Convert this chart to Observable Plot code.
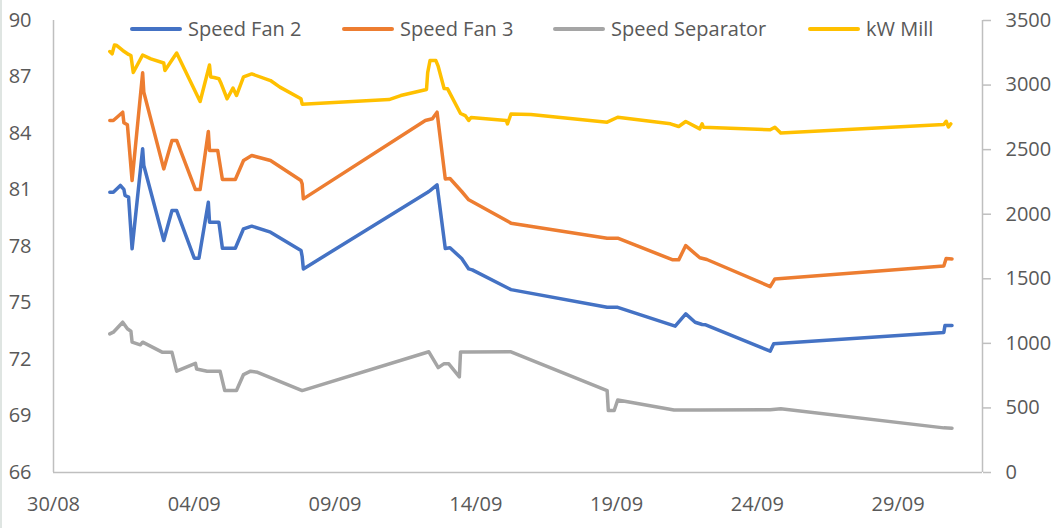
<!DOCTYPE html>
<html><head><meta charset="utf-8">
<script src="https://cdn.jsdelivr.net/npm/d3@7"></script>
<script src="https://cdn.jsdelivr.net/npm/@observablehq/plot@0.6"></script>
<style>
html,body{margin:0;padding:0;background:#fff;}
#wrap{position:relative;width:1054px;height:528px;overflow:hidden;font-family:"Open Sans",sans-serif;}
#legend{position:absolute;top:14px;left:0;width:1054px;height:30px;font-size:20px;color:#595959;line-height:30px;white-space:nowrap;}
.item{position:absolute;top:0;display:flex;align-items:center;}
.swatch{width:52px;height:4px;border-radius:2px;margin-right:6px;}
#edge{position:absolute;left:0;top:0;width:2px;height:528px;background:#dfe5e2;}
</style></head><body>
<div id="wrap"><div id="chart"></div><div id="legend"></div><div id="edge"></div></div>
<script>
// ---- data ----
const seriesNames = ["Speed Fan 2", "Speed Fan 3", "Speed Separator", "kW Mill"];
const seriesColors = ["#4472C4", "#ED7D31", "#A5A5A5", "#FFC000"];
const leftTicks = [66, 69, 72, 75, 78, 81, 84, 87, 90];
const rightTicks = [0, 500, 1000, 1500, 2000, 2500, 3000, 3500];
const xTicks = ["2023-08-30T00", "2023-09-04T00", "2023-09-09T00", "2023-09-14T00", "2023-09-19T00", "2023-09-24T00", "2023-09-29T00"];
const xDomain = ["2023-08-30T00", "2023-10-02T00"];

const fan2Times = ["2023-09-01T00","2023-09-01T03","2023-09-01T09","2023-09-01T12","2023-09-01T13","2023-09-01T16","2023-09-01T19","2023-09-02T04","2023-09-02T05","2023-09-02T22","2023-09-03T05","2023-09-03T09","2023-09-04T00","2023-09-04T04","2023-09-04T12","2023-09-04T13","2023-09-04T21","2023-09-05T00","2023-09-05T11","2023-09-05T18","2023-09-06T01","2023-09-06T17","2023-09-07T19","2023-09-07T20","2023-09-07T21","2023-09-12T07","2023-09-12T09","2023-09-12T15","2023-09-12T22","2023-09-13T02","2023-09-13T12","2023-09-13T18","2023-09-13T21","2023-09-15T06","2023-09-18T16","2023-09-19T01","2023-09-21T02","2023-09-21T11","2023-09-21T19","2023-09-22T01","2023-09-22T04","2023-09-24T11","2023-09-24T14","2023-09-30T15","2023-09-30T16","2023-09-30T22"];
const fan2Values = [80.88,80.88,81.24,81.03,80.71,80.62,77.88,83.19,82.30,78.32,79.91,79.91,77.38,77.38,80.35,79.29,79.29,77.91,77.91,78.94,79.08,78.76,77.79,77.47,76.81,80.88,80.97,81.27,77.89,77.93,77.36,76.81,76.76,75.71,74.77,74.77,73.77,74.42,73.98,73.86,73.84,72.44,72.83,73.43,73.80,73.80];

const fan3Times = ["2023-09-01T00","2023-09-01T03","2023-09-01T11","2023-09-01T12","2023-09-01T15","2023-09-01T19","2023-09-02T04","2023-09-02T05","2023-09-02T22","2023-09-03T05","2023-09-03T09","2023-09-04T01","2023-09-04T05","2023-09-04T12","2023-09-04T13","2023-09-04T20","2023-09-05T00","2023-09-05T11","2023-09-05T18","2023-09-06T01","2023-09-06T17","2023-09-07T19","2023-09-07T20","2023-09-07T21","2023-09-12T05","2023-09-12T11","2023-09-12T15","2023-09-12T22","2023-09-13T02","2023-09-13T12","2023-09-13T18","2023-09-15T06","2023-09-18T16","2023-09-19T01","2023-09-21T00","2023-09-21T05","2023-09-21T11","2023-09-21T23","2023-09-22T05","2023-09-24T11","2023-09-24T15","2023-09-30T15","2023-09-30T17","2023-09-30T22"];
const fan3Values = [84.69,84.69,85.13,84.57,84.46,81.50,87.22,86.19,82.12,83.63,83.63,81.02,81.02,84.11,83.10,83.10,81.56,81.56,82.57,82.83,82.57,81.50,81.33,80.53,84.69,84.78,85.13,81.59,81.61,80.92,80.48,79.24,78.44,78.44,77.29,77.29,78.05,77.40,77.31,75.87,76.28,76.96,77.36,77.34];

const sepTimes = ["2023-09-01T00","2023-09-01T03","2023-09-01T11","2023-09-01T15","2023-09-01T18","2023-09-01T19","2023-09-02T02","2023-09-02T04","2023-09-02T21","2023-09-03T05","2023-09-03T09","2023-09-04T01","2023-09-04T02","2023-09-04T11","2023-09-04T22","2023-09-05T02","2023-09-05T12","2023-09-05T18","2023-09-06T00","2023-09-06T06","2023-09-07T20","2023-09-12T08","2023-09-12T16","2023-09-12T21","2023-09-13T01","2023-09-13T10","2023-09-13T11","2023-09-13T17","2023-09-15T06","2023-09-18T16","2023-09-18T17","2023-09-18T22","2023-09-19T01","2023-09-21T01","2023-09-21T23","2023-09-24T11","2023-09-24T20","2023-09-30T15","2023-09-30T22"];
const sepValues = [73.36,73.45,73.98,73.63,73.50,72.92,72.78,72.92,72.38,72.38,71.38,71.80,71.50,71.38,71.38,70.35,70.35,71.20,71.38,71.32,70.35,72.41,71.57,71.78,71.77,71.08,72.40,72.40,72.41,70.35,69.29,69.29,69.85,69.32,69.32,69.33,69.38,68.37,68.35];

const millTimes = ["2023-09-01T00","2023-09-01T02","2023-09-01T04","2023-09-01T06","2023-09-01T11","2023-09-01T16","2023-09-01T18","2023-09-01T20","2023-09-02T04","2023-09-02T11","2023-09-02T22","2023-09-02T23","2023-09-03T09","2023-09-04T05","2023-09-04T13","2023-09-04T14","2023-09-04T17","2023-09-04T21","2023-09-04T23","2023-09-05T04","2023-09-05T09","2023-09-05T12","2023-09-05T18","2023-09-06T01","2023-09-06T17","2023-09-07T01","2023-09-07T19","2023-09-07T20","2023-09-10T22","2023-09-11T08","2023-09-12T06","2023-09-12T07","2023-09-12T09","2023-09-12T14","2023-09-12T16","2023-09-12T21","2023-09-13T00","2023-09-13T11","2023-09-13T15","2023-09-13T18","2023-09-13T20","2023-09-15T02","2023-09-15T03","2023-09-15T06","2023-09-15T23","2023-09-18T16","2023-09-19T01","2023-09-20T22","2023-09-21T05","2023-09-21T11","2023-09-21T23","2023-09-22T01","2023-09-22T02","2023-09-24T11","2023-09-24T15","2023-09-24T20","2023-09-30T15","2023-09-30T17","2023-09-30T19","2023-09-30T21"];
const millKw = [3260,3242,3310,3306,3268,3237,3229,3097,3233,3203,3171,3113,3248,2873,3155,3063,3059,3049,3010,2894,2977,2919,3063,3086,3035,2984,2894,2852,2888,2919,2966,3097,3190,3190,3144,2973,2971,2780,2764,2726,2749,2726,2699,2776,2772,2713,2751,2700,2679,2718,2661,2700,2674,2654,2674,2629,2695,2720,2675,2700];

// ---- build ----
const parse = d3.utcParse("%Y-%m-%dT%H");
const leftMin = 66, leftMax = 90, rightMax = 3500;
const kwToLeft = k => leftMin + (k / rightMax) * (leftMax - leftMin);
const leftToKw = v => String(Math.round((v - leftMin) * rightMax / (leftMax - leftMin)));

const rows = [];
function add(name, times, values, f = v => v) {
  times.forEach((t, i) => { if (values[i] != null) rows.push({s: name, t: parse(t), v: f(values[i])}); });
}
add(seriesNames[0], fan2Times, fan2Values);
add(seriesNames[1], fan3Times, fan3Values);
add(seriesNames[2], sepTimes, sepValues);
add(seriesNames[3], millTimes, millKw, kwToLeft);

const axisColor = "#bfbfbf";
const chart = Plot.plot({
  width: 1054, height: 528,
  marginTop: 20, marginBottom: 56, marginLeft: 53, marginRight: 72,
  style: {fontFamily: "'Open Sans', sans-serif", fontSize: "20px", color: "#595959", background: "white"},
  x: {type: "utc", domain: xDomain.map(parse), label: null},
  y: {domain: [leftMin, leftMax], label: null},
  color: {domain: seriesNames, range: seriesColors},
  marks: [
    Plot.ruleY([leftMin], {stroke: axisColor, strokeWidth: 1.5}),
    Plot.ruleX([parse(xDomain[0])], {stroke: axisColor, strokeWidth: 1.5}),
    Plot.ruleX([parse(xDomain[1])], {stroke: axisColor, strokeWidth: 1.5}),
    Plot.axisY({ticks: leftTicks, tickSize: 0, tickPadding: 22, label: null, tickFormat: d => String(d)}),
    Plot.axisY({anchor: "right", ticks: rightTicks.map(kwToLeft), tickSize: 8, tickPadding: 15, stroke: axisColor, strokeWidth: 1.5, label: null, tickFormat: leftToKw}),
    Plot.axisX({ticks: xTicks.map(parse), tickSize: 0, tickPadding: 24, label: null, tickFormat: d3.utcFormat("%d/%m")}),
    Plot.line(rows, {x: "t", y: "v", z: "s", stroke: "s", strokeWidth: 3.5, curve: "linear", strokeLinejoin: "round", strokeLinecap: "round"})
  ]
});
document.getElementById("chart").appendChild(chart);

// legend: item left edges in px (layout only)
const legendLeft = [130, 342, 553, 808];
const legend = d3.select("#legend");
seriesNames.forEach((n, i) => {
  const it = legend.append("div").attr("class", "item").style("left", legendLeft[i] + "px");
  it.append("div").attr("class", "swatch").style("background", seriesColors[i]);
  it.append("span").text(n);
});
</script>
</body></html>
